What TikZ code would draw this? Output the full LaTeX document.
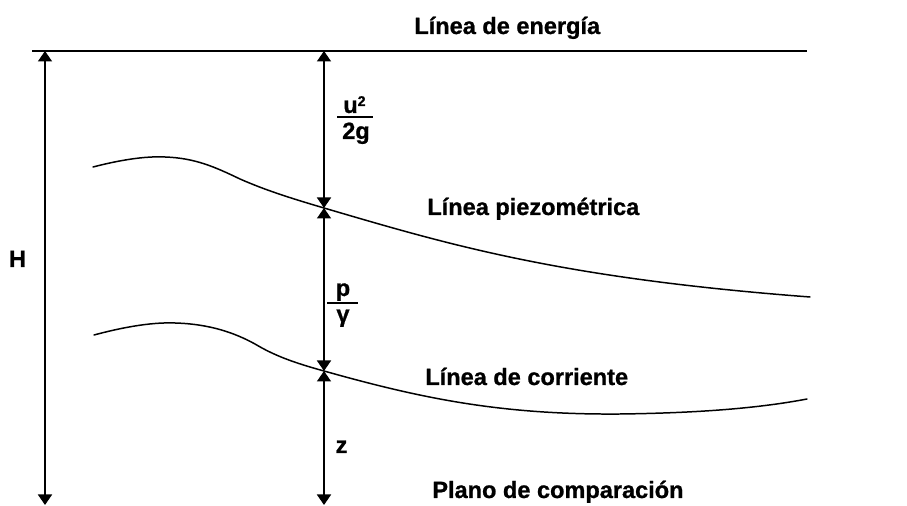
\documentclass[tikz,border=0pt]{standalone}
\usepackage{fontspec}
\setmainfont{Liberation Sans}[BoldFeatures={FakeBold=0.9}]
\usetikzlibrary{arrows.meta}
\begin{document}
\begin{tikzpicture}[x=0.02cm,y=-0.02cm,
  lbl/.style={inner sep=0pt,font=\fontsize{13.4pt}{15pt}\selectfont\bfseries},
  dimarrow/.style={line width=0.95pt,{Triangle[width=0.28cm,length=0.21cm]}-{Triangle[width=0.28cm,length=0.21cm]}},
  heavyline/.style={line width=0.95pt},
  curveline/.style={line width=0.85pt,line cap=round}]
\useasboundingbox (0,0) rectangle (907,506);

% named points
\coordinate (eL) at (32,51);
\coordinate (eR) at (807,51);
\coordinate (Htop) at (45,51);
\coordinate (Hbot) at (45,505);
\coordinate (mTop) at (324,51);
\coordinate (mP) at (324,208);
\coordinate (mS) at (324,371);
\coordinate (mBot) at (324,505);

% energy line
\draw[heavyline] (eL) -- (eR);

% piezometric line
\draw[curveline] (93,167) .. controls (120,160) and (145,156) .. (165,157)
  .. controls (195,158) and (215,167) .. (240,179)
  .. controls (265,190) and (290,198) .. (mP)
  .. controls (450,245) and (560,278) .. (810,297);

% stream line
\draw[curveline] (94,335) .. controls (120,328) and (150,322) .. (175,323)
  .. controls (210,324) and (235,333) .. (255,344)
  .. controls (275,356) and (295,363) .. (mS)
  .. controls (420,398) and (500,415) .. (620,414)
  .. controls (700,413) and (760,408) .. (807,399);

% dimension arrows
\draw[dimarrow] (Htop) -- (Hbot);
\draw[dimarrow] (mTop) -- (mP);
\draw[dimarrow] (mP) -- (mS);
\draw[dimarrow] (mS) -- (mBot);

% labels
\node[lbl,anchor=base west] (tEn) at (414,34) {Línea de energía};
\node[lbl,anchor=base west] (tPz) at (427,215) {Línea piezométrica};
\node[lbl,anchor=base west] (tCo) at (425,385) {Línea de corriente};
\node[lbl,anchor=base west] (tPl) at (432,498) {Plano de comparación};
\node[lbl,anchor=base] (tH) at (17.5,267) {H};
\node[lbl,anchor=base] (tz) at (341.5,453) {z};

% u^2/2g
\node[lbl,anchor=base west] (uNum) at (343,113) {u\raisebox{4pt}{\fontsize{8pt}{8pt}\selectfont 2}};
\node[lbl,anchor=base] (uDen) at (356,139) {2g};
\coordinate (ub1) at (337,117);
\coordinate (ub2) at (373,117);
\draw[line width=1.3pt] (ub1) -- (ub2);

% p/gamma
\node[lbl,anchor=base] (pNum) at (343,296) {p};
\node[lbl,anchor=base] (pDen) at (343,322) {γ};
\coordinate (pb1) at (327,303);
\coordinate (pb2) at (358,303);
\draw[line width=1.3pt] (pb1) -- (pb2);
\end{tikzpicture}
\end{document}
